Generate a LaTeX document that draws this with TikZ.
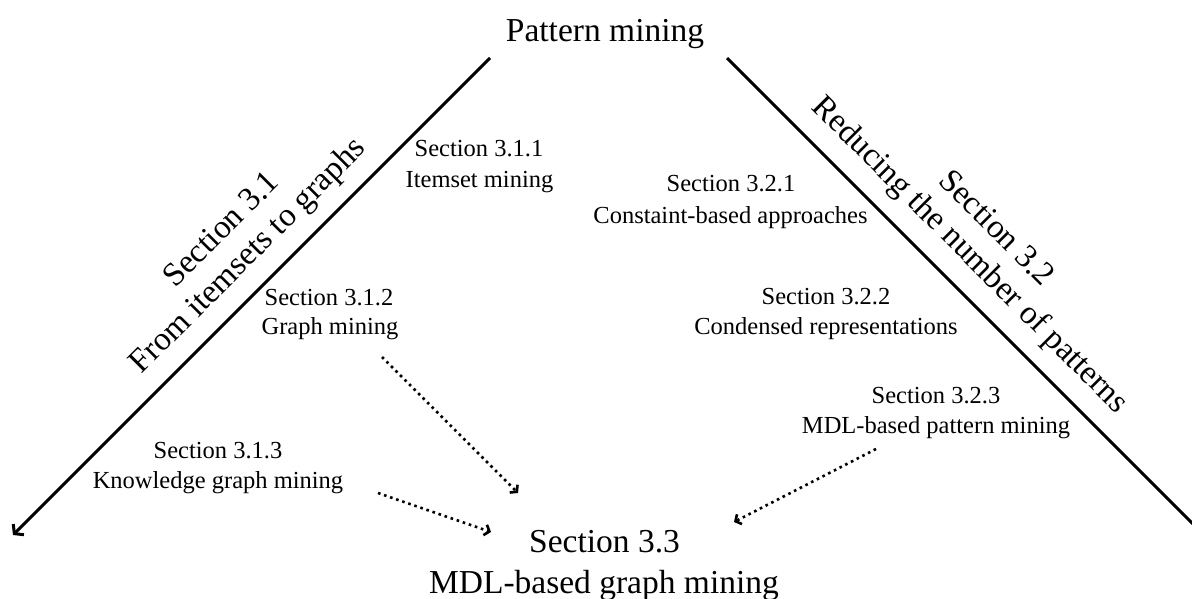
\documentclass[tikz,border=0pt]{standalone}
\usepackage{fontspec}
\setmainfont{Liberation Serif}
\usetikzlibrary{arrows.meta}
\begin{document}
\begin{tikzpicture}[x=1pt,y=-1pt,
  big/.style={font=\fontsize{33.5}{40}\selectfont, inner sep=0pt, anchor=base},
  small/.style={font=\fontsize{24.5}{30}\selectfont, inner sep=0pt, anchor=base},
  diag/.style={font=\fontsize{33}{37}\selectfont, inner sep=0pt, align=center},
  mainline/.style={line width=3pt, -{Straight Barb[length=6pt,width=15pt,line width=3pt]}},
  dotarrow/.style={line width=2.6pt, dash pattern=on 2.6pt off 3.8pt, -{Straight Barb[length=4.5pt,width=11pt,line width=2.6pt]}}]
\useasboundingbox (0,0) rectangle (1192,599);

% big labels
\node[big] (pm) at (605,42) {Pattern mining};
\node[big] (s33a) at (604.5,552) {Section 3.3};
\node[big] (s33b) at (604,593) {MDL-based graph mining};

% small labels
\node[small] (s311a) at (479,157) {Section 3.1.1};
\node[small] (s311b) at (479.5,187) {Itemset mining};
\node[small] (s312a) at (329,305) {Section 3.1.2};
\node[small] (s312b) at (330,334) {Graph mining};
\node[small] (s313a) at (218,458) {Section 3.1.3};
\node[small] (s313b) at (218,488) {Knowledge graph mining};
\node[small] (s321a) at (731,192) {Section 3.2.1};
\node[small] (s321b) at (730.5,223) {Constaint-based approaches};
\node[small] (s322a) at (826,304) {Section 3.2.2};
\node[small] (s322b) at (826,334) {Condensed representations};
\node[small] (s323a) at (936,403) {Section 3.2.3};
\node[small] (s323b) at (936,433) {MDL-based pattern mining};

% diagonal labels
\node[diag, rotate=45] (d31) at (236,244) {Section 3.1\\From itemsets to graphs};
\node[diag, rotate=-45] (d32) at (982,243) {Section 3.2\\Reducing the number of patterns};

% main lines
\coordinate (ls) at (490,58);
\coordinate (le) at (13,535);
\coordinate (rs) at (727,58);
\coordinate (re) at (1204,535);
\draw[mainline] (ls) -- (le);
\draw[mainline] (rs) -- (re);

% dotted arrows
\coordinate (a1s) at (382,357);
\coordinate (a1e) at (518,493);
\coordinate (a2s) at (378,493);
\coordinate (a2e) at (491,532);
\coordinate (a3s) at (876,449);
\coordinate (a3e) at (734,522);
\draw[dotarrow] (a1s) -- (a1e);
\draw[dotarrow] (a2s) -- (a2e);
\draw[dotarrow] (a3s) -- (a3e);
\end{tikzpicture}
\end{document}
